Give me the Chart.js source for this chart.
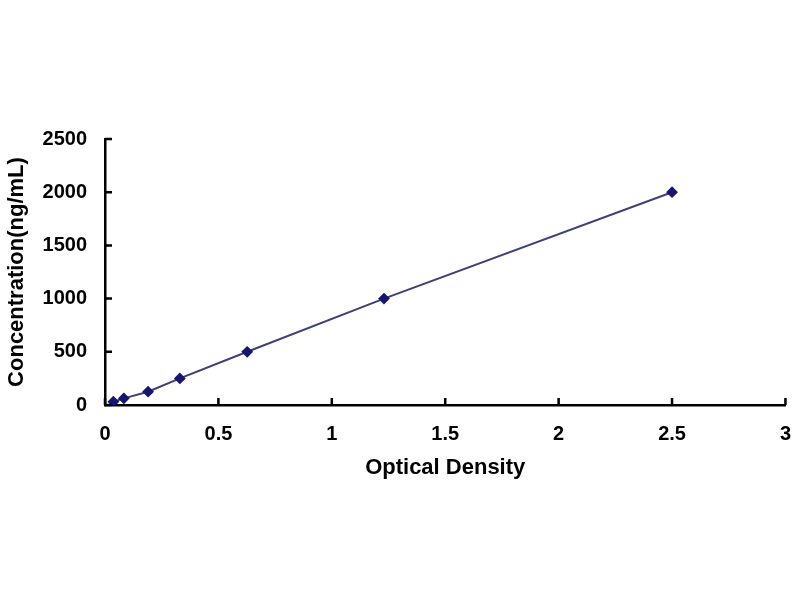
<!DOCTYPE html>
<html lang="en">
<head>
    <meta charset="UTF-8">
    <title>Standard Curve</title>
    <style>
        body {
            margin: 0;
            padding: 0;
            background-color: #ffffff;
        }

        #chartBox {
            width: 800px;
            height: 600px;
        }
    </style>
    <script src="https://cdn.jsdelivr.net/npm/chart.js"></script>
</head>
<body>
    <div id="chartBox"><canvas id="curveChart"></canvas></div>

    <script>
        // values
        const opticalDensity = [0.037, 0.083, 0.19, 0.33, 0.627, 1.23, 2.5];
        const concentration = [31.25, 62.5, 125, 250, 500, 1000, 2000];
        const xTicks = [0, 0.5, 1, 1.5, 2, 2.5, 3];
        const yTicks = [0, 500, 1000, 1500, 2000, 2500];

        const points = opticalDensity.map((od, i) => ({ x: od, y: concentration[i] }));

        // small inward tick marks on both axes
        const innerTicks = {
            id: 'innerTicks',
            afterDraw(chart) {
                const ctx = chart.ctx;
                const xs = chart.scales.x;
                const ys = chart.scales.y;
                ctx.save();
                ctx.strokeStyle = '#000';
                ctx.lineWidth = 2.5;
                ctx.beginPath();
                xTicks.forEach(v => {
                    const px = xs.getPixelForValue(v);
                    ctx.moveTo(px, ys.bottom);
                    ctx.lineTo(px, ys.bottom - 7);
                });
                yTicks.forEach(v => {
                    const py = ys.getPixelForValue(v);
                    ctx.moveTo(xs.left, py);
                    ctx.lineTo(xs.left + 7, py);
                });
                ctx.stroke();
                ctx.restore();
            }
        };

        const ctx = document.getElementById('curveChart').getContext('2d');
        new Chart(ctx, {
            type: 'scatter',
            data: {
                datasets: [{
                    data: points,
                    showLine: true,
                    borderColor: '#404078',
                    borderWidth: 2,
                    backgroundColor: '#16166e',
                    pointBackgroundColor: '#16166e',
                    pointBorderColor: '#16166e',
                    pointStyle: 'rectRot',
                    pointRadius: 4.5,
                    tension: 0
                }]
            },
            options: {
                responsive: true,
                maintainAspectRatio: false,
                animation: false,
                layout: {
                    padding: { top: 139, right: 3, bottom: 115, left: 0 }
                },
                plugins: {
                    legend: { display: false },
                    tooltip: { enabled: false }
                },
                scales: {
                    x: {
                        type: 'linear',
                        min: 0,
                        max: 3,
                        afterBuildTicks: scale => {
                            scale.ticks = xTicks.map(v => ({ value: v }));
                        },
                        afterFit: scale => { scale.height = 80; },
                        grid: { display: false },
                        border: { display: true, color: '#000', width: 2.5 },
                        ticks: {
                            color: '#000',
                            padding: 9,
                            callback: v => String(v),
                            font: { family: 'Liberation Sans', size: 20, weight: 'bold' }
                        },
                        title: {
                            display: true,
                            text: 'Optical Density',
                            color: '#000',
                            font: { family: 'Liberation Sans', size: 22, weight: 'bold' }
                        }
                    },
                    y: {
                        type: 'linear',
                        min: 0,
                        max: 2500,
                        afterBuildTicks: scale => {
                            scale.ticks = yTicks.map(v => ({ value: v }));
                        },
                        afterFit: scale => { scale.width = 105; },
                        grid: { display: false },
                        border: { display: true, color: '#000', width: 2.5 },
                        ticks: {
                            color: '#000',
                            padding: 10,
                            callback: v => String(v),
                            font: { family: 'Liberation Sans', size: 20, weight: 'bold' }
                        },
                        title: {
                            display: true,
                            text: 'Concentration(ng/mL)',
                            color: '#000',
                            font: { family: 'Liberation Sans', size: 22, weight: 'bold' }
                        }
                    }
                }
            },
            plugins: [innerTicks]
        });
    </script>
</body>
</html>
